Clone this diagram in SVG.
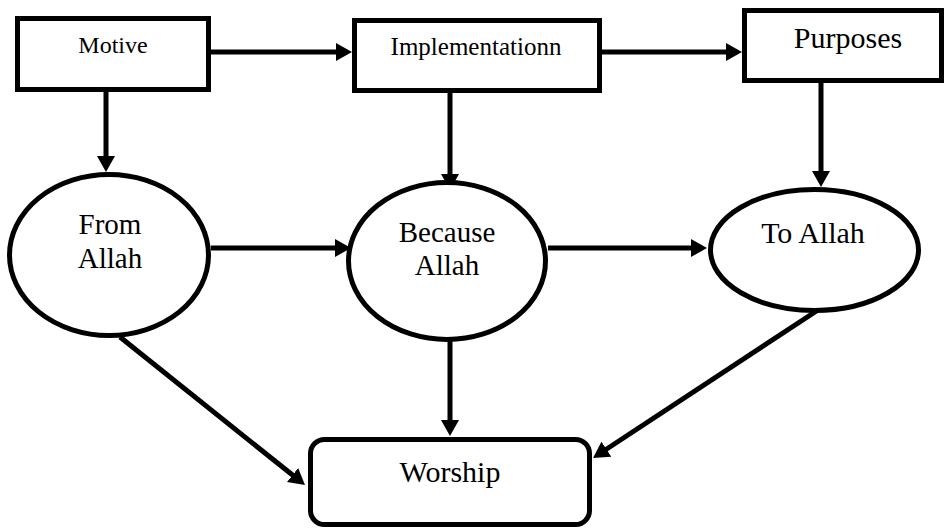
<svg xmlns="http://www.w3.org/2000/svg" width="944" height="528" viewBox="0 0 944 528">
<style>
.box{fill:#fff;stroke:#000;stroke-width:5}
.lbl{font-family:"Liberation Serif","DejaVu Serif",serif;fill:#000;text-anchor:middle}
.edge{stroke:#000;stroke-width:5;fill:none;marker-end:url(#ah)}
</style>
<defs>
<marker id="ah" viewBox="0 0 16 18" refX="6" refY="9" markerWidth="16" markerHeight="18" markerUnits="userSpaceOnUse" orient="auto">
<path d="M0,0 L16,9 L0,18 z" fill="#000"/>
</marker>
</defs>
<rect width="944" height="528" fill="#fff"/>
<g id="connectors">
<line class="edge" x1="211" y1="52" x2="342" y2="52"/>
<line class="edge" x1="602" y1="52" x2="732" y2="52"/>
<line class="edge" x1="106" y1="92" x2="106" y2="162"/>
<line class="edge" x1="450" y1="93" x2="450" y2="180"/>
<line class="edge" x1="821" y1="83" x2="821" y2="177"/>
<line class="edge" x1="211" y1="248" x2="341" y2="248"/>
<line class="edge" x1="548" y1="248" x2="697" y2="248"/>
<line class="edge" x1="120" y1="337" x2="297.2" y2="478.8"/>
<line class="edge" x1="450" y1="340" x2="450" y2="426"/>
<line class="edge" x1="818" y1="310" x2="601.4" y2="452.5"/>
</g>
<g id="motive">
<rect class="box" x="17.5" y="18.5" width="191" height="71"/>
<text class="lbl" x="113" y="53" font-size="24">Motive</text>
</g>
<g id="implementation">
<rect class="box" x="354.5" y="20.5" width="245" height="70"/>
<text class="lbl" x="476" y="55" font-size="25">Implementationn</text>
</g>
<g id="purposes">
<rect class="box" x="744.5" y="10.5" width="197" height="70"/>
<text class="lbl" x="848" y="48" font-size="30">Purposes</text>
</g>
<g id="from-allah">
<ellipse class="box" cx="109" cy="255" rx="99.5" ry="80.5"/>
<text class="lbl" x="110" y="234" font-size="29">From</text>
<text class="lbl" x="110" y="268" font-size="29">Allah</text>
</g>
<g id="because-allah">
<ellipse class="box" cx="447" cy="261" rx="98.5" ry="78.5"/>
<text class="lbl" x="447" y="242" font-size="29">Because</text>
<text class="lbl" x="447" y="275" font-size="29">Allah</text>
</g>
<g id="to-allah">
<ellipse class="box" cx="814.5" cy="250" rx="104" ry="60.5"/>
<text class="lbl" x="813" y="243" font-size="30">To Allah</text>
</g>
<g id="worship">
<rect class="box" x="310.5" y="439.5" width="279" height="85" rx="14"/>
<text class="lbl" x="450" y="482" font-size="30">Worship</text>
</g>
</svg>
